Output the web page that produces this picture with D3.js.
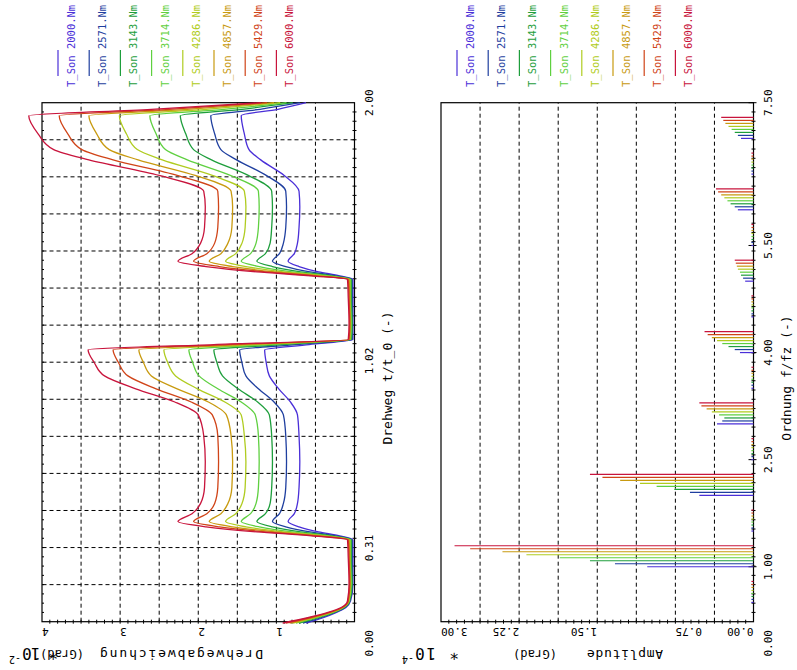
<!DOCTYPE html>
<html>
<head>
<meta charset="utf-8">
<script src="https://cdn.jsdelivr.net/npm/d3@7"></script>
<style>
body { margin: 0; background: #fff; }
text { font-family: "DejaVu Sans Mono", monospace; }
</style>
</head>
<body>
<div id="chart"></div>
<script>
// ---- data ----
var serien = ["T_Son 2000.Nm", "T_Son 2571.Nm", "T_Son 3143.Nm", "T_Son 3714.Nm",
              "T_Son 4286.Nm", "T_Son 4857.Nm", "T_Son 5429.Nm", "T_Son 6000.Nm"];
var farben = ["#4a2fd8", "#1f3f9f", "#1e9e3c", "#5fd040", "#b0cc20", "#c89a10", "#d04418", "#c8143c"];

// Drehweg t/t_0 (-)
var drehweg = [.025, .045, .065, .084, .109, .173, .272, .341, .356, .371, .390, .410, .440, .479, .539, .637, .736, .815, .864, .914,
               .963, 1.013, 1.062, 1.082, 1.101, 1.161, 1.259, 1.329, 1.343, 1.358, 1.378, 1.398, 1.427, 1.467, 1.526, 1.605,
               1.664, 1.724, 1.783, 1.822, 1.882, 1.951, 1.975, 2.0];
// Drehwegabweichung (Grad*10^-2)
var abw2000 = [.62, .40, .23, .11, .05, .02, .02, .02, .19, .46, .71, .85, .77, .73, .71, .70, .71, .73, .82, .97, 1.09, 1.13, 1.15, .58, .02, .02, .02, .02, .19, .46, .71, .85, .77, .73, .71, .70, .71, .90, 1.20, 1.35, 1.41, 1.45, .98, .62];
var abw2571 = [.66, .43, .25, .12, .06, .03, .03, .03, .24, .57, .88, 1.05, .96, .91, .88, .87, .88, .91, 1.03, 1.23, 1.39, 1.44, 1.47, .75, .03, .03, .03, .03, .24, .57, .88, 1.05, .96, .91, .88, .87, .88, 1.13, 1.51, 1.71, 1.79, 1.84, 1.21, .70];
var abw3143 = [.71, .46, .26, .13, .06, .03, .04, .04, .29, .69, 1.05, 1.25, 1.14, 1.08, 1.06, 1.05, 1.06, 1.09, 1.24, 1.49, 1.69, 1.76, 1.80, .93, .04, .03, .04, .04, .29, .69, 1.05, 1.25, 1.14, 1.08, 1.06, 1.05, 1.06, 1.36, 1.83, 2.06, 2.16, 2.23, 1.44, .79];
var abw3714 = [.75, .49, .28, .14, .07, .04, .05, .05, .34, .80, 1.22, 1.45, 1.33, 1.26, 1.23, 1.22, 1.23, 1.27, 1.45, 1.75, 1.99, 2.07, 2.12, 1.10, .05, .04, .05, .05, .34, .80, 1.22, 1.45, 1.33, 1.26, 1.23, 1.22, 1.23, 1.59, 2.14, 2.42, 2.54, 2.62, 1.67, .87];
var abw4286 = [.79, .52, .29, .15, .07, .05, .06, .06, .39, .91, 1.39, 1.65, 1.52, 1.44, 1.40, 1.39, 1.41, 1.45, 1.66, 2.01, 2.29, 2.39, 2.44, 1.28, .06, .05, .06, .06, .39, .91, 1.39, 1.65, 1.52, 1.44, 1.40, 1.39, 1.41, 1.82, 2.46, 2.78, 2.92, 3.01, 1.90, .95];
var abw4857 = [.83, .54, .31, .15, .08, .06, .06, .07, .45, 1.02, 1.56, 1.86, 1.71, 1.62, 1.57, 1.56, 1.58, 1.64, 1.87, 2.27, 2.60, 2.70, 2.76, 1.45, .06, .06, .06, .07, .45, 1.02, 1.56, 1.86, 1.71, 1.62, 1.57, 1.56, 1.58, 2.04, 2.77, 3.14, 3.30, 3.40, 2.14, 1.03];
var abw5429 = [.88, .57, .32, .16, .08, .06, .07, .08, .50, 1.14, 1.73, 2.06, 1.89, 1.79, 1.75, 1.74, 1.75, 1.82, 2.09, 2.54, 2.90, 3.02, 3.09, 1.62, .07, .06, .07, .08, .50, 1.14, 1.73, 2.06, 1.89, 1.79, 1.75, 1.74, 1.75, 2.27, 3.09, 3.49, 3.67, 3.78, 2.37, 1.12];
var abw6000 = [.92, .60, .34, .17, .09, .07, .08, .09, .55, 1.25, 1.90, 2.26, 2.08, 1.97, 1.92, 1.91, 1.93, 2.00, 2.30, 2.80, 3.20, 3.33, 3.41, 1.80, .08, .07, .08, .09, .55, 1.25, 1.90, 2.26, 2.08, 1.97, 1.92, 1.91, 1.93, 2.50, 3.40, 3.85, 4.05, 4.17, 2.60, 1.20];
var abweichung = [abw2000, abw2571, abw3143, abw3714, abw4286, abw4857, abw5429, abw6000];

// Ordnung f/fz (-) and Amplitude (Grad*10^-4)
var ordnung = [0.5, 1, 1.5, 2, 2.5, 3, 3.5, 4, 4.5, 5, 5.5, 6, 6.5, 7];
var amp2000 = [.02, 1.02, .02, .52, .02, .35, .02, .13, .02, .08, .02, .15, .02, .12];
var amp2571 = [.02, 1.33, .02, .61, .02, .30, .02, .18, .02, .10, .02, .18, .02, .15];
var amp3143 = [.02, 1.57, .02, .76, .02, .28, .02, .24, .02, .12, .02, .22, .02, .18];
var amp3714 = [.02, 1.86, .02, .93, .02, .33, .02, .30, .02, .13, .02, .25, .02, .21];
var amp4286 = [.02, 2.18, .02, 1.09, .02, .40, .02, .35, .02, .15, .02, .28, .02, .24];
var amp4857 = [.02, 2.41, .02, 1.28, .02, .45, .02, .40, .02, .16, .02, .31, .02, .27];
var amp5429 = [.02, 2.72, .02, 1.45, .02, .50, .02, .44, .02, .17, .02, .34, .02, .29];
var amp6000 = [.02, 2.87, .02, 1.57, .02, .52, .02, .47, .02, .18, .02, .36, .02, .31];
var amplitude = [amp2000, amp2571, amp3143, amp3714, amp4286, amp4857, amp5429, amp6000];

var xTicks1 = [0.31, 1.02, 2.00];
var yTicks1 = [1, 2, 3, 4];
var xTicks2 = [1.00, 2.50, 4.00, 5.50, 7.50];
var yTicks2 = [0.00, 0.75, 1.50, 2.25, 3.00];

// ---- drawing ----
var W = 797, H = 670;
var svg = d3.select("#chart").append("svg").attr("width", W).attr("height", H);
svg.append("rect").attr("width", W).attr("height", H).attr("fill", "#fff");
// whole plot is turned by 90 deg: local x runs up the page, local y runs to the right
var g = svg.append("g").attr("transform", "translate(0," + H + ") rotate(-90)");

var x1 = d3.scaleLinear().domain([0.03, 2]).range([48.3, 567.3]);
var y1 = d3.scaleLinear().domain([0, 4]).range([354.5, 42]);
var x2 = d3.scaleLinear().domain([0.23, 7.5]).range([48.3, 567.3]);
var y2 = d3.scaleLinear().domain([0, 3]).range([753.5, 441]);

function frame(x, y, nx, ny, xMajor, mirror) {
    var p = g.append("g");
    var xr = x.range(), yr = y.range();
    var grid = p.append("g").attr("stroke", "#000").attr("stroke-width", 1).attr("stroke-dasharray", "4,3");
    if (nx) d3.range(1, nx).forEach(function(i) {
        var xx = xr[0] + (xr[1] - xr[0]) * i / nx;
        grid.append("line").attr("x1", xx).attr("x2", xx).attr("y1", yr[0]).attr("y2", yr[1]);
    });
    d3.range(1, ny).forEach(function(i) {
        var yy = yr[0] + (yr[1] - yr[0]) * i / ny;
        grid.append("line").attr("x1", xr[0]).attr("x2", xr[1]).attr("y1", yy).attr("y2", yy);
    });
    var tk = p.append("g").attr("stroke", "#000").attr("stroke-width", 1);
    var nMinor = nx ? nx * 4 : 56;
    d3.range(1, nMinor).forEach(function(i) {
        var xx = xr[0] + (xr[1] - xr[0]) * i / nMinor;
        tk.append("line").attr("x1", xx).attr("x2", xx).attr("y1", yr[0] - 2).attr("y2", yr[0] + 2);
        if (mirror) tk.append("line").attr("x1", xx).attr("x2", xx).attr("y1", yr[1]).attr("y2", yr[1] + 2);
    });
    (xMajor || []).forEach(function(v) {
        tk.append("line").attr("x1", x(v)).attr("x2", x(v)).attr("y1", yr[0] - 5).attr("y2", yr[0] + 3);
    });
    d3.range(1, ny * 5).forEach(function(i) {
        var yy = yr[0] + (yr[1] - yr[0]) * i / (ny * 5);
        tk.append("line").attr("x1", xr[0] - 2).attr("x2", xr[0] + 2).attr("y1", yy).attr("y2", yy);
    });
    p.append("rect").attr("x", xr[0]).attr("y", yr[1]).attr("width", xr[1] - xr[0]).attr("height", yr[0] - yr[1])
        .attr("fill", "none").attr("stroke", "#000").attr("stroke-width", 1.2);
    return p;
}

// left panel: Drehwegabweichung
frame(x1, y1, 14, 8, null, true);
var line = d3.line().curve(d3.curveMonotoneX)
    .x(function(d) { return x1(d[0]); })
    .y(function(d) { return y1(d[1]); });
abweichung.forEach(function(ys, i) {
    g.append("path")
        .datum(drehweg.map(function(xx, j) { return [xx, ys[j]]; }))
        .attr("fill", "none").attr("stroke", farben[i]).attr("stroke-width", 1.3)
        .attr("d", line);
});

// right panel: amplitude spectrum, bars of each series set slightly apart
frame(x2, y2, 0, 8, xTicks2, false);
amplitude.forEach(function(vals, i) {
    var off = i * 0.042;
    g.append("g").selectAll("line").data(ordnung).enter().append("line")
        .attr("x1", function(d) { return x2(d + off); })
        .attr("x2", function(d) { return x2(d + off); })
        .attr("y1", y2(0))
        .attr("y2", function(d, j) { return y2(vals[j]); })
        .attr("stroke", farben[i]).attr("stroke-width", 1.2);
});

// axis labels
function xLabels(x, ticks, yBase) {
    g.append("g").selectAll("text").data(ticks).enter().append("text")
        .attr("x", function(d) { return x(d); })
        .attr("y", yBase)
        .attr("text-anchor", "middle")
        .attr("font-size", 11)
        .text(function(d) { return d.toFixed(2); });
    g.append("text").attr("x", 40).attr("y", yBase).attr("text-anchor", "end")
        .attr("font-size", 11).text("0.00");
}
xLabels(x1, xTicks1, 373);
xLabels(x2, xTicks2, 772);

g.append("g").selectAll("text").data(yTicks1).enter().append("text")
    .attr("transform", function(d) { return "translate(42," + y1(d) + ") rotate(-90)"; })
    .attr("text-anchor", "end").attr("font-size", 11)
    .text(function(d) { return d; });
// the plotting program alternates the label side here
var anker2 = ["start", "end", "start", "start", "end"];
g.append("g").selectAll("text").data(yTicks2).enter().append("text")
    .attr("transform", function(d) { return "translate(42," + y2(d) + ") rotate(-90)"; })
    .attr("text-anchor", function(d, i) { return anker2[i]; }).attr("font-size", 11)
    .text(function(d) { return d.toFixed(2); });

g.append("text").attr("x", 292).attr("y", 392).attr("text-anchor", "middle").attr("font-size", 13)
    .text("Drehweg t/t_0 (-)");
g.append("text").attr("x", 292).attr("y", 791).attr("text-anchor", "middle").attr("font-size", 13)
    .text("Ordnung f/fz (-)");

function yTitle(name, nameLen, ly, unitLy, starLy, starLen, expo) {
    g.append("text").attr("transform", "translate(20," + ly + ") rotate(-90)")
        .attr("font-size", 13).attr("textLength", nameLen).text(name);
    g.append("text").attr("transform", "translate(20," + unitLy + ") rotate(-90)")
        .attr("font-size", 12).attr("textLength", 44).text("(Grad)");
    g.append("text").attr("transform", "translate(22," + starLy + ") rotate(-90)")
        .attr("font-size", 16).attr("textLength", starLen).text("* 10");
    g.append("text").attr("transform", "translate(14," + (starLy - starLen - 1) + ") rotate(-90)")
        .attr("font-size", 10).text(expo);
}
yTitle("Drehwegabweichung", 163, 263, 84, 58, 36, "-2");
yTitle("Amplitude", 76, 663, 557, 459, 44, "-4");

// legends
function legend(ly0) {
    serien.forEach(function(s, i) {
        var ly = ly0 + i * 31.2;
        g.append("line").attr("x1", 594).attr("x2", 620).attr("y1", ly).attr("y2", ly)
            .attr("stroke", farben[i]).attr("stroke-width", 1.2);
        g.append("text").attr("x", 583).attr("y", ly + 17).attr("font-size", 10.5)
            .attr("fill", farben[i]).text(s);
    });
}
legend(58);
legend(457);
</script>
</body>
</html>
